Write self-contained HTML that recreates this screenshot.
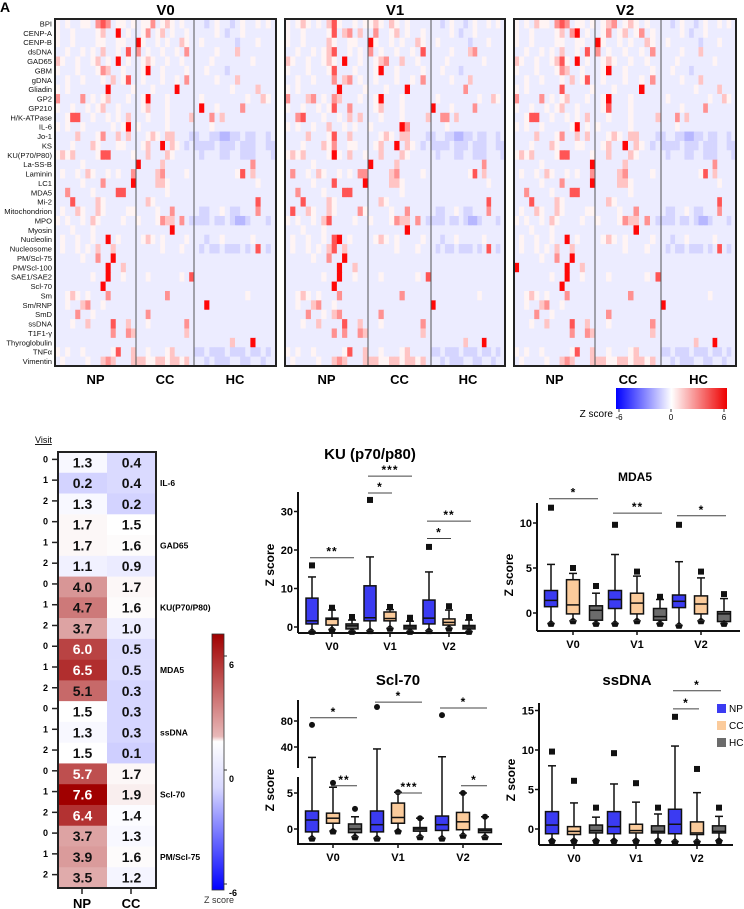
<!DOCTYPE html>
<html><head><meta charset="utf-8">
<style>
html,body{margin:0;padding:0;background:#fff;}
svg{display:block;font-family:"Liberation Sans",Arial,sans-serif;}
</style></head>
<body>
<svg id="fig" width="744" height="909" viewBox="0 0 744 909" xmlns="http://www.w3.org/2000/svg">
<text x="0" y="12" font-size="14" font-weight="bold">A</text>
<g id="top"></g>
<g id="bl"></g>
<g id="box"></g>
</svg>
<script>
// ---------- TOP HEATMAP DATA ----------
const antigens=["BPI","CENP-A","CENP-B","dsDNA","GAD65","GBM","gDNA","Gliadin","GP2","GP210","H/K-ATPase","IL-6","Jo-1","KS","KU(P70/P80)","La-SS-B","Laminin","LC1","MDA5","Mi-2","Mitochondrion","MPO","Myosin","Nucleolin","Nucleosome","PM/Scl-75","PM/Scl-100","SAE1/SAE2","Scl-70","Sm","Sm/RNP","SmD","ssDNA","T1F1-γ","Thyroglobulin","TNFα","Vimentin"];
const levelValues={A:-1.7,B:-1.0,C:-0.45,D:0.25,E:1.4,F:2.6,G:4,H:5.8};
const hmV0=[
"DCDCCDDCFGFCDDCD|CDDFCDEDCDCC|CCBCDCCBCDCCDCDC",
"DCCDCCCCDECCHCDC|CDFCDECDCCDC|CCCCDCBCCDCCCCCC",
"DCCDCCCCDDCCDDCC|HDCCDCDCCEDC|CDCCCCCCBCCCDCCC",
"CCDCCDCDCECCDCGC|FCDCCDCCDCFC|CCCCDCCCECCCCCCC",
"EDCCDCCDECDCHCDC|CDEDCCDCCDCC|CCCDCCCCCCCDCCCC",
"DCCCDCCCDFECCDCC|CDHCCDCCCCDC|CCDCCCBCCCCCCCCC",
"CCDCCDCCCDCECDGC|CDCCCDCCDCFC|CCCCDCCCECCCCCCC",
"DCDCCCCCCCHCCCCD|CCCDCCCCHCCC|CCCCCCCDCCCCECCC",
"FCCCCFCDCDECCCDC|CDHCCCDCCCCC|CDCCCCCCCCDCCEDC",
"DCCDCCDCDECCDCCC|CDECCCDCCCCC|CHCCDCCCCFCCCCCC",
"CCDGGCCDCCDCDCEC|CCDCCCDCCCCE|CCCFCECCCCCCCCCC",
"DCDCCDCCCCCDCDHC|DCCCCCDCCCCC|CCCDCCCCCCCCCCCC",
"CCCCECCCDFCCECEC|CCDEDCEECCCB|BCCBBAABBCBBCCBC",
"CCCDCCCEDCCCDDCC|CDECCHCEDCBC|BBBBCBBBCBBBCCBB",
"DEDECCCCDGGCCCCD|CCECCCEDCCCC|CBCCCBBCCBBBCCCB",
"CCCCCDCCCCCCCCCC|HCCCCECCCCCC|CCCCCCCCCCCFCCCC",
"CDCCDCEDCCDCDCCF|CCCCEFCCCCDC|CCCCCCCCDGCECCCC",
"CCCCCDCCCFCCCCCH|CCCCEEDCCCCC|CCCCCCCCCCCCDCCC",
"CCFCCCCDCCCCGGCC|CCCCCCDCCCCC|CCCCCCCCCCCCCCCC",
"CCCGCCCCEDCCCCCC|CCEDCCCCCCCC|CCCCCCCCCCCCGCCC",
"CDCCEDCCEDCCCCDD|CCCCDCCFCCCC|CBBCCDCBBCCCFCCC",
"DCDCCDCEDCCCCDCC|DCCCDFEECFCB|BBBCBBCBAABCCCBC",
"CCCDCCCDCCCCCCCC|CCCCCCCHCCCC|CCCCCCCCCCCCCCCC",
"CDCCDCCDCCHCDCCC|CDEDCDCCCCDC|CCBCCDCCCCCDCCCC",
"CDCCDCDCECCECCCC|CCCCCDCCCDCC|CBCBBCBBBCBCGCBC",
"CCCCCDCCFCCHCCCC|CCCCCCCCCCCC|CCCCCCCCCCCCCCCC",
"CCCCCCCCCCHCCECC|CCCCCCCCCCCC|CCCCCCCCCCCCCCCC",
"CCCCCCCDCCHCCDCC|CCDCCCCCCDCG|CCCCCCCCCCCCCCCC",
"CCCCCCCCCHCCCCCC|CCCCCCCCCCCC|CCCCCCCCCCCCCCCC",
"CCDEDCDCCCFCCCCC|CCCCCCFCCCCC|CCCCCCCCCCDCCCCC",
"CCDCCEFCCDCCCCCC|CCCCCCCCCCCC|CCHCCCCCCCCCCCCC",
"CCCCFCCDCCCCCCCC|CCFCCCCCCCCC|CCCCCCCCCCCCCCCC",
"CCCDCCECCCCGCCEC|CCDCCCCCCCFC|CCCCCCCCCCCCCCCC",
"CCCCCCCCCCCFCCFE|CCCCCCCCCCEC|CCCCCCCCCCCCCCCC",
"CCCCCCCCCCCCCCCC|CCCCCCCCCCCC|CCCCCCCECCCHCCCC",
"DCDCCDCCCCCDGCCE|CCDCCCDECCCC|BBCBBBCBBBCBBCBC",
"CDCCCCDCCEFECCCE|EEDDEEDEEDEC|CCBCBBBCCBBCCBCC"];
const hmV1=[
"DCDEDCDCEGDCCDCD|DEDCEDCDCCCC|CCBCDCCBCDCCDCDC",
"DCCDCCCCDGCEFCEC|CFCCDECDCCDC|CCCCDCBCCDCCCCCC",
"DCCDCCCCEDCCDDCC|HDCCDCDCCEDC|CDCCCCCCBCCCDCCC",
"CCDCCDCDEGCCDCDC|FCDCCDCCDCGC|CCCCDCCCEFCCCCCC",
"EDCCDCCDEDCHCCDC|CDEFCCECCDCC|CCCDCCCCCCCDCCCC",
"DCCCDCCCDGCCCDCC|CDHCCDCCCCDC|CCDCCCBCCCCCCCCC",
"CCDCCDCCCFCEFCDC|CDCCCDCCDCFC|CCCCDCCCECCCCCCC",
"DCDCCCCCCCHCCCCD|CCCDCCCHCCCC|CCCCCCCFCCCCCCCC",
"FCCCEFCDCFECCCDC|CDHCCCDCCCCC|CDCCCCCCCCDCCEDC",
"DCCDCCDCDGCCFCCC|CDECCCDCCCCC|HCCCDCCCCFCCCCCC",
"CCFGCCCDCCDCECEC|CCDCCCDCCCCE|CCFFCECCCCCCCCCC",
"DCDCCDCCECCDCDCC|DCCCCCHFCCCC|CCCDCCCCCCCCCCCC",
"CCCCECCCDGCCECCC|CCDEDCEECCCB|BCCBBAABBCBBCCBC",
"CCCDCCCEDFCCDDCC|CDECCHCEDCBC|BBBBCBBBCBBBCCBB",
"DEDECCCCDHDCECCD|CCECCCEDCCCC|CBCCCBBCCBBBCCCB",
"CCCCCDCCCCCCCCCC|HCCCCECCCCCC|CCCCCCCCCCCFCCCC",
"CFCCDCEDCCDCDCFF|CCCCEFCCCCDC|CCCCCCCCDGCECCCC",
"CCCCCDCCCGCCCCCH|CCCCEEDCCCCC|CCCCCCCCCCCCDCCC",
"CCFCCCCDCCCGGCCC|CCCCCCDCCCCC|CCCCCCCCCCCCCCCC",
"CCCGCCCCEDCCCCCC|CCEDCCCCCCCC|CCCCCCCCCCCCGCCC",
"CGCCEDCCEDCCCCFD|CCCCDCCFCCCC|CBBCCDCBBCCCFCCC",
"DCDCCDCEGCCCCDCC|DCCCDFEECFCB|BBBCBBCBAABCCCBC",
"CCCDCCCDCCCCCCCC|CCCCCCCHCCCC|CCCCCCCCCCCCCCCC",
"CDCCDCCDCGHCDCCC|CDEDCDCCCCDC|CCBCCDCCCCCDCCCC",
"CDCCDCDCEGCECCCC|CCCCCDCCCDCC|CBCBBCBBBCBCGCBC",
"CCCCCDCCFCCHCCCC|CCCCCCCCCCCC|CCCCCCCCCCCCCCCC",
"CCCCCCCCCCHCCECC|CCCCCCCCCCCC|CCCCCCCCCCCCCCCC",
"CCCCCCCDCCHCCDCC|CCDCCCCCCDCG|CCCCCCCCCCCCCCCC",
"CCCCCCCCCHCCCCCC|CCCCCCCCCCCC|CCCCCCCCCCCCCCCC",
"CCDEDCDCCCFCCCCC|CCCCCCFCCCCC|CCCCCCCCCCDCCCCC",
"CCDCCEFCCDCCCCCC|CCCCCCCCCCCC|HCCCCCCCCCCCCCCC",
"CCCCFCCDCEFCCCCC|CCFCCCCCCCCC|CCCCCCCCCCCCCCCC",
"CCCDCCECCCCGCCEC|CCDCCCCCCCFC|CCCCCCCCCCCCCCCC",
"CCCCCCCCCFCFCCFE|CCCCCCCCCCEC|CCCCCCCCCCCCCCCC",
"CCCCCCCCCCCCCCCC|CCCCCCCCCCCC|CCCCCCCECCCHCCCC",
"DCDCCDCCCCCDGCCE|CCDCCCDECCCC|BBCBBBCBBBCBBCBC",
"CDCCCCDCCEFECCCE|EEDDEEDEEDEC|CCBCBBBCCBBCCBCC"];
const hmV2=[
"DCDCEDDCFGFCDDCD|CDEFCDEDCDCC|CCBCDCCBCDCCDCDC",
"DCCDCCCCDECFHCDC|CDFCDECDFCDC|CCCCDCBCCDCCCCCC",
"DCCDCCCCDDCCDDCC|HDCCDCDCCEDC|CDCCCCCCBCCCDCCC",
"CCDCCDCDCECCDCGC|FCDCCDCCDCFC|CCCCDCCCECCCCCCC",
"EDCCDCCDEGDCHCDC|CDEDCCDCCDCC|CCCDCCCCCCCDCCCC",
"DCCCDCCCDFECCDCC|CDHCCDCCCCDC|CCDCCCBCCCCCCCCC",
"CCDCCDCCCDCECDGC|CDCCCDCCDCFC|CCCCDCCCECCCCCCC",
"DCDCCCCCCGCCCCCD|CCCDCCCCHCCC|CCCCCCCDCCCCECCC",
"FCCCCFCDCDECCCDC|CDHCCCDCCCCC|CDCCCCCCCCDCCEDC",
"DCCDCCDCDECCDCCC|CDGCCCDCCCCC|CCCCDCCCCFCCCCCC",
"CCDGGCCDCCDCDCEC|CCDCCCDCCCCE|CCCFCECCCCCCCCCC",
"DCDCCDCCCCCDHCDC|DCCCCCDCCCCC|CCCDCCCCCCCCCCCC",
"CCCCECCCDFCCECEC|CCDEDCEECCCB|BCCBBAABBCBBCCBC",
"CCCDCCCEDCCCDDCC|CDECCHCEDCBC|BBBBCBBBCBBBCCBB",
"DEDECCCCDGGCCCCD|CCECCCEDCCCC|CBCCCBBCCBBBCCCB",
"CCCCCDCCCCCCCCCH|CCCCCECCCCCC|CCCCCCCCCCCFCCCC",
"CDCCDCEDCCDCDCCF|CCCCEFCCCCDC|CCCCCCCCDGCECCCC",
"CCCCCDCCCFCCCCCH|CCCCEEDCCCCC|CCCCCCCCCCCCDCCC",
"CCFCCCCDCCCGGCCC|CCCCCCDCCCCC|CCCCCCCCCCCCCCCC",
"CCCGCCCCEDCCCCCC|CCEDCCCCCCCC|CCCCCCCCCCCCGCCC",
"CDCCEDCCEDCCCCDD|CCCCDCCFCCCC|CBBCCDCBBCCCFCCC",
"DCDCCDCEDCCCCDCC|DCCCDFEECFCB|BBBCBBCBAABCCCBC",
"CCCDCCCDCCCCCCCC|CCCCCCCHCCCC|CCCCCCCCCCCCCCCC",
"CDCCDCCDCCHCDCCC|CDEDCDCCCCDC|CCBCCDCCCCCDCCCC",
"CDCCDCDCECCECCCC|CCCCCDCCCDCC|CBCBBCBBBCBCGCBC",
"CCCCCDCCFCCHCCCC|CCCCCCCCCCCC|CCCCCCCCCCCCCCCC",
"HCCCCCCCCCHCCECC|CCCCCCCCCCCC|CCCCCCCCCCCCCCCC",
"CCCCCCCDCCHCCDCC|CCDCCCCCCDCG|CCCCCCCCCCCCCCCC",
"CCCCCCCCCHCCCCCC|CCCCCCCCCCCC|CCCCCCCCCCCCCCCC",
"CCDEDCDCCCFCCCCC|CCCCCCFCCCCC|CCCCCCCCCCDCCCCC",
"CCDCCEFCCDCCCCCC|CCCCCCCCCCCC|HCCCCCCCCCCCCCCC",
"CCCCFCCDCCCCCCCC|CCFCCCCCCCCC|CCCCCCCCCCCCCCCC",
"CCCDCCECCCCGCCEC|CCDCCCCCCCFC|CCCCCCCCCCCCCCCC",
"CCCCCCCCCCCFCCFE|CCCCCCCCCCEC|CCCCCCCCCCCCCCCC",
"CCCCCCCCCCCCCCCC|CCCCCCCCCCCC|CCCCCCCECCCHCCCC",
"DCDCCDCCCCCDGCCE|CCDCCCDECCCC|BBCBBBCBBBCBBCBC",
"CDCCCCDCCEFECCCE|EEDDEEDEEDEC|CCBCBBBCCBBCCBCC"];
const visitTitles=["V0","V1","V2"];
const groupNames=["NP","CC","HC"];

// ---------- BOTTOM-LEFT HEATMAP DATA ----------
const blNP=[1.3,0.2,1.3,1.7,1.7,1.1,4.0,4.7,3.7,6.0,6.5,5.1,1.5,1.3,1.5,5.7,7.6,6.4,3.7,3.9,3.5];
const blCC=[0.4,0.4,0.2,1.5,1.6,0.9,1.7,1.6,1.0,0.5,0.5,0.3,0.3,0.3,0.1,1.7,1.9,1.4,1.3,1.6,1.2];
const blVisits=["0","1","2"];
const blAntigens=["IL-6","GAD65","KU(P70/P80)","MDA5","ssDNA","Scl-70","PM/Scl-75"];
const blScaleTicks=[6,0,-6];

// ---------- BOX PLOT DATA (order: V0 NP,CC,HC, V1 NP,CC,HC, V2 NP,CC,HC) ----------
const boxCategories=["V0","V1","V2"];
const kuQ1=[0.8,0.5,-0.5,1.6,1.6,-0.5,0.8,0.5,-0.5];
const kuMed=[1.6,2,0.3,2.4,2.2,0,2.3,1.2,0];
const kuQ3=[7.5,2.3,0.8,10.7,3.9,0.4,7,2.1,0.4];
const kuHi=[13,4.4,1.8,18.2,4.5,1.5,14.3,4.4,1.8];
const kuOut=[16,5,2.6,33,5.2,2.4,20.8,5.4,2.6];
const kuLo=[-1,-0.5,-1,-0.8,-0.2,-1,-0.8,-0.2,-1];
const kuTicks=[0,10,20,30];
const kuSig=[[0,0,2,18,"**"],[1,0,1,34.8,"*"],[1,0,2,39.2,"***"],[2,0,1,23,"*"],[2,0,2,27.5,"**"]];

const mdaQ1=[0.7,-0.1,-0.8,0.5,-0.1,-0.8,0.6,-0.1,-0.95];
const mdaMed=[1.4,0.9,0.3,1.5,1.1,-0.4,1.3,1.0,-0.1];
const mdaQ3=[2.5,3.7,0.8,2.5,2.2,0.5,2.0,1.9,0.15];
const mdaHi=[5.4,4.4,2.2,6.5,4.1,1.5,5.7,3.9,1.6];
const mdaOut=[11.7,5.0,3.0,9.8,4.6,1.8,9.8,4.6,2.1];
const mdaLo=[-1.1,-0.8,-1.1,-1.1,-0.8,-1.1,-1.3,-0.8,-1.1];
const mdaTicks=[0,5,10];
const mdaSig=[[0,0,2,12.7,"*"],[1,0,2,11.1,"**"],[2,0,2,10.8,"*"]];

const sclQ1=[-0.4,0.8,-0.5,-0.4,0.8,-0.3,-0.2,-0.1,-0.5];
const sclMed=[1.25,1.5,0,0.6,1.6,0,0.6,1.0,-0.2];
const sclQ3=[2.5,2.2,0.7,2.5,3.6,0.2,1.8,2.3,0];
const sclHi=[24,5.8,1.7,37,5.1,1.5,25,5.0,1.7];
const sclOut=[74,6.4,2.8,101.5,5.1,1.5,89,5.0,1.7];
const sclLo=[-1.2,-0.2,-1,-1.2,-0.2,-1,-1.2,-0.8,-1];
const sclTicks=[0,5,40,80];
const sclSig=[[0,0,2,85,"*"],[0,1,2,6.0,"**"],[1,0,2,109,"*"],[1,1,2,5.0,"***"],[2,0,2,100,"*"],[2,1,2,6.0,"*"]];

const ssQ1=[-0.6,-0.7,-0.5,-0.6,-0.5,-0.5,-0.6,-0.7,-0.5];
const ssMed=[0.5,-0.3,-0.2,0.3,-0.2,-0.3,0.6,-0.5,-0.3];
const ssQ3=[2.2,0.3,0.5,2.2,0.6,0.4,2.5,0.9,0.4];
const ssHi=[8,3.3,1.5,5.7,3.4,1.9,10.5,4.6,1.6];
const ssOut=[9.8,6.1,2.7,9.6,5.8,2.7,14.2,7.6,2.7];
const ssLo=[-1.4,-1.4,-1.4,-1.4,-1.4,-1.4,-1.5,-1.5,-1.4];
const ssTicks=[0,5,10,15];
const ssSig=[[2,0,1,15.2,"*"],[2,0,2,17.5,"*"]];

const NS="http://www.w3.org/2000/svg";
function mk(parent,tag,attrs,txt){const e=document.createElementNS(NS,tag);for(const k in attrs)e.setAttribute(k,attrs[k]);if(txt!==undefined)e.textContent=txt;parent.appendChild(e);return e;}
function divColor(v,max){const t=Math.max(-1,Math.min(1,v/max));if(t<0){const c=Math.round(255*(1+t));return `rgb(${c},${c},255)`;}const c=Math.round(255*(1-t));return `rgb(255,${c},${c})`;}

// ---------- TOP HEATMAPS ----------
const topG=document.getElementById('top');
const panels=[{x0:55,x1:276,d:[136,194],data:hmV0},{x0:285,x1:505,d:[368,431],data:hmV1},{x0:514,x1:736,d:[595,661],data:hmV2}];
const hmY0=19,hmY1=366,rowH=(hmY1-hmY0)/antigens.length;
antigens.forEach((a,i)=>{
  const t=mk(topG,'text',{x:52,y:hmY0+rowH*(i+0.5)+2.8,'font-size':7.6,'text-anchor':'end',fill:'#111'},a);
  
  
});
panels.forEach((p,pi)=>{
  const g=mk(topG,'g',{});
  
  
  const bounds=[p.x0,p.d[0],p.d[1],p.x1];
  p.data.forEach((row,ri)=>{
    row.split('|').forEach((seg,gi)=>{
      const w=(bounds[gi+1]-bounds[gi])/seg.length;
      for(let c=0;c<seg.length;c++){
        const r=mk(g,'rect',{x:bounds[gi]+c*w,y:hmY0+ri*rowH,width:w+0.4,height:rowH+0.4,fill:divColor(levelValues[seg[c]],6)});
        
        
      }
    });
  });
  mk(g,'line',{x1:p.d[0],x2:p.d[0],y1:hmY0,y2:hmY1,stroke:'#555','stroke-width':1});
  mk(g,'line',{x1:p.d[1],x2:p.d[1],y1:hmY0,y2:hmY1,stroke:'#555','stroke-width':1});
  mk(g,'rect',{x:p.x0,y:hmY0,width:p.x1-p.x0,height:hmY1-hmY0,fill:'none',stroke:'#222','stroke-width':2});
  const tt=mk(topG,'text',{x:(p.x0+p.x1)/2,y:15,'font-size':15,'font-weight':'bold','text-anchor':'middle'},visitTitles[pi]);
  
  
  groupNames.forEach((gn,gi)=>{
    const lt=mk(topG,'text',{x:(bounds[gi]+bounds[gi+1])/2,y:384,'font-size':13,'font-weight':'bold','text-anchor':'middle'},gn);
    
    
  });
});
// top colorbar
{
  const defs=mk(topG,'defs',{});
  const lg=mk(defs,'linearGradient',{id:'hcb',x1:0,x2:1,y1:0,y2:0});
  mk(lg,'stop',{offset:'0','stop-color':'#0000ff'});
  mk(lg,'stop',{offset:'0.5','stop-color':'#ffffff'});
  mk(lg,'stop',{offset:'1','stop-color':'#ee0000'});
  const cb=mk(topG,'rect',{x:616,y:388,width:111,height:21,fill:'url(#hcb)'});
  
  
  const zl=mk(topG,'text',{x:613,y:417,'font-size':10,'text-anchor':'end'},'Z score');
  
  
  [[-6,619],[0,671],[6,724]].forEach(([v,x])=>{
    mk(topG,'line',{x1:x,x2:x,y1:409,y2:412,stroke:'#333'});
    const t=mk(topG,'text',{x:x,y:420,'font-size':8,'text-anchor':'middle'},String(v));
    
    
  });
}

// ---------- BOTTOM-LEFT HEATMAP ----------
const blG=document.getElementById('bl');
{
  const x0=58,xm=107,x1=156,y0=452,y1=888,rh=(y1-y0)/blNP.length;
  function blColor(v){
    if(v<1.5){const t=Math.min(1,(1.5-v)/7.5);const c=Math.round(255*(1-t));return `rgb(${c},${c},255)`;}
    const t=Math.min(1,(v-1.5)/6.1);return `rgb(${Math.round(255-95*t)},${Math.round(255*(1-t))},${Math.round(255*(1-t))})`;
  }
  const vt=mk(blG,'text',{x:35,y:443,'font-size':9,'text-decoration':'underline'},'Visit');
  
  
  [blNP,blCC].forEach((arr,ci)=>{
    const cx=ci?xm:x0;
    arr.forEach((v,i)=>{
      const r=mk(blG,'rect',{x:cx,y:y0+i*rh,width:xm-x0+0.3,height:rh+0.3,fill:blColor(v)});
      
      
      const t=mk(blG,'text',{x:cx+24.5,y:y0+i*rh+rh/2+5,'font-size':14,'font-weight':'bold','text-anchor':'middle',fill:v>=5.5?'#fff':'#111'},v.toFixed(1));
      
      
    });
  });
  mk(blG,'rect',{x:x0,y:y0,width:x1-x0,height:y1-y0,fill:'none',stroke:'#222','stroke-width':2});
  blNP.forEach((v,i)=>{
    const y=y0+i*rh+rh/2-3;
    mk(blG,'line',{x1:52,x2:58,y1:y,y2:y,stroke:'#222','stroke-width':1.5});
    const t=mk(blG,'text',{x:48,y:y+3,'font-size':9,'font-weight':'bold','text-anchor':'end'},blVisits[i%3]);
    
    
  });
  blAntigens.forEach((a,k)=>{
    const t=mk(blG,'text',{x:160,y:y0+(k*3+1.5)*rh+3,'font-size':8.5,'font-weight':'bold'},a);
    
    
  });
  [["NP",82],["CC",131]].forEach(([n,x])=>{
    mk(blG,'line',{x1:x,x2:x,y1:888,y2:894,stroke:'#222','stroke-width':1.5});
    const t=mk(blG,'text',{x:x,y:908,'font-size':13,'font-weight':'bold','text-anchor':'middle'},n);
    
    
  });
  const defs=mk(blG,'defs',{});
  const lg=mk(defs,'linearGradient',{id:'vcb',x1:0,x2:0,y1:0,y2:1});
  mk(lg,'stop',{offset:'0','stop-color':'#a00000'});
  mk(lg,'stop',{offset:'0.4','stop-color':'#e8b8b8'});
  mk(lg,'stop',{offset:'0.42','stop-color':'#ffffff'});
  mk(lg,'stop',{offset:'0.6','stop-color':'#d8d8ff'});
  mk(lg,'stop',{offset:'1','stop-color':'#0000ff'});
  const cb=mk(blG,'rect',{x:212,y:634,width:12,height:256,fill:'url(#vcb)',stroke:'#333','stroke-width':0.8});
  
  
  blScaleTicks.forEach(v=>{
    const y=778-v*19;
    mk(blG,'line',{x1:224,x2:227,y1:y-8,y2:y-8,stroke:'#333'});
    const t=mk(blG,'text',{x:229,y:y+4,'font-size':9,'font-weight':'bold'},String(v));
    
    
  });
  const zt=mk(blG,'text',{x:219,y:903,'font-size':9,'text-anchor':'middle',fill:'#333'},'Z score');
  
  
}

// ---------- BOX PLOTS ----------
const boxRoot=document.getElementById('box');
const groupFill=['#3b3bf2','#fbcb9b','#6b6b6b'];
function boxPanel(cfg){
  const g=mk(boxRoot,'g',{});
  
  
  const y=cfg.y;
  const bx=(i)=>cfg.centers[Math.floor(i/3)]+cfg.offs[i%3];
  cfg.axisSegs.forEach(s=>mk(g,'line',{x1:cfg.ax,x2:cfg.ax,y1:s[0],y2:s[1],stroke:'#111','stroke-width':2}));
  mk(g,'line',{x1:cfg.ax,x2:cfg.xEnd,y1:cfg.axY,y2:cfg.axY,stroke:'#111','stroke-width':2});
  cfg.ticks.forEach(v=>{
    const yy=y(v);
    mk(g,'line',{x1:cfg.ax-4,x2:cfg.ax,y1:yy,y2:yy,stroke:'#111','stroke-width':1.5});
    const t=mk(g,'text',{x:cfg.ax-5,y:yy+4,'font-size':11,'font-weight':'bold','text-anchor':'end'},String(v));
    
    
  });
  boxCategories.forEach((c,ci)=>{
    mk(g,'line',{x1:cfg.centers[ci],x2:cfg.centers[ci],y1:cfg.axY,y2:cfg.axY+4,stroke:'#111','stroke-width':1.5});
    const t=mk(g,'text',{x:cfg.centers[ci],y:cfg.axY+17,'font-size':11,'font-weight':'bold','text-anchor':'middle'},c);
    
    
  });
  const yl=mk(g,'text',{x:0,y:0,'font-size':12,'font-weight':'bold','text-anchor':'middle',transform:`translate(${cfg.ax-24},${cfg.yLabelY}) rotate(-90)`},'Z score');
  
  
  const tt=mk(g,'text',{x:cfg.titleX,y:cfg.titleY,'font-size':cfg.titleSize,'font-weight':'bold','text-anchor':'middle'},cfg.title);
  
  
  const hw=cfg.bw/2;
  cfg.q1.forEach((_,i)=>{
    const x=bx(i);
    const gb=mk(g,'g',{});
    
    
    mk(gb,'line',{x1:x,x2:x,y1:y(cfg.hi[i]),y2:y(cfg.q3[i]),stroke:'#111','stroke-width':1.5});
    mk(gb,'line',{x1:x,x2:x,y1:y(cfg.q1[i]),y2:y(cfg.lo[i]),stroke:'#111','stroke-width':1.5});
    mk(gb,'line',{x1:x-4,x2:x+4,y1:y(cfg.hi[i]),y2:y(cfg.hi[i]),stroke:'#111','stroke-width':1.5});
    const yTop=y(cfg.q3[i]),yBot=y(cfg.q1[i]);
    mk(gb,'rect',{x:x-hw,y:yTop,width:cfg.bw,height:Math.max(1,yBot-yTop),fill:groupFill[i%3],stroke:'#111','stroke-width':1.5});
    mk(gb,'line',{x1:x-hw,x2:x+hw,y1:y(cfg.med[i]),y2:y(cfg.med[i]),stroke:'#111','stroke-width':1.5});
    const oy=y(cfg.out[i]);
    if(cfg.circles) mk(gb,'circle',{cx:x,cy:oy,r:3,fill:'#111'});
    else mk(gb,'rect',{x:x-3,y:oy-3,width:6,height:6,fill:'#111'});
    const ly=y(cfg.lo[i]);
    mk(gb,'path',{d:`M${x-4},${ly} L${x+4},${ly} L${x+2.5},${ly+4} L${x-2.5},${ly+4} Z`,fill:'#111'});
    mk(gb,'path',{d:`M${x-3.5},${ly} L${x},${ly-3} L${x+3.5},${ly} Z`,fill:'#111'});
  });
  cfg.sig.forEach(s=>{
    const x1=bx(s[0]*3+s[1])-2,x2=bx(s[0]*3+s[2])+2,yy=y(s[3]);
    mk(g,'line',{x1:x1,x2:x2,y1:yy,y2:yy,stroke:'#444','stroke-width':1});
    const t=mk(g,'text',{x:(x1+x2)/2,y:yy-2,'font-size':12,'font-weight':'bold','text-anchor':'middle','letter-spacing':'1'},s[4]);
    
    
  });
}
boxPanel({name:'boxplot-ku',title:'KU (p70/p80)',titleX:370,titleY:459,titleSize:15,ax:298,xEnd:470,axY:633,
  axisSegs:[[492,633]],y:v=>627-v*3.85,ticks:kuTicks,centers:[332,390,449],offs:[-20,0,20],bw:12,yLabelY:565,
  q1:kuQ1,med:kuMed,q3:kuQ3,hi:kuHi,out:kuOut,lo:kuLo,sig:kuSig});
boxPanel({name:'boxplot-mda5',title:'MDA5',titleX:635,titleY:481,titleSize:12,ax:537,xEnd:740,axY:631,
  axisSegs:[[503,631]],y:v=>613-v*9,ticks:mdaTicks,centers:[573,637,701],offs:[-22,0,23],bw:13,yLabelY:575,
  q1:mdaQ1,med:mdaMed,q3:mdaQ3,hi:mdaHi,out:mdaOut,lo:mdaLo,sig:mdaSig});
boxPanel({name:'boxplot-scl70',title:'Scl-70',titleX:398,titleY:685,titleSize:15,ax:298,xEnd:502,axY:844,
  axisSegs:[[700,768],[777,845]],y:v=>v<=7.5?829-v*7.2:747-(v-40)*0.65,ticks:sclTicks,centers:[333,398,463],offs:[-21,0,22],bw:13,yLabelY:790,circles:true,
  q1:sclQ1,med:sclMed,q3:sclQ3,hi:sclHi,out:sclOut,lo:sclLo,sig:sclSig});
boxPanel({name:'boxplot-ssdna',title:'ssDNA',titleX:627,titleY:685,titleSize:15,ax:539,xEnd:733,axY:845,
  axisSegs:[[703,845]],y:v=>829-v*7.9,ticks:ssTicks,centers:[574,636,697],offs:[-22,0,22],bw:13,yLabelY:780,
  q1:ssQ1,med:ssMed,q3:ssQ3,hi:ssHi,out:ssOut,lo:ssLo,sig:ssSig});
// legend
groupNames.forEach((n,i)=>{
  const yy=705+i*17;
  const r=mk(boxRoot,'rect',{x:717,y:yy-1,width:9,height:9,fill:groupFill[i]});
  
  
  const t=mk(boxRoot,'text',{x:729,y:yy+7,'font-size':10},n);
  
  
});
</script>
</body></html>
